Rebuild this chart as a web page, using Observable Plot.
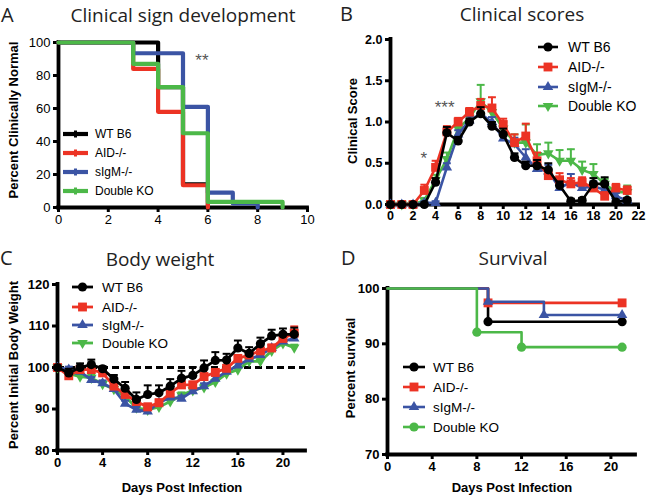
<!DOCTYPE html>
<html><head><meta charset="utf-8">
<script src="https://cdn.jsdelivr.net/npm/d3@7"></script>
<script src="https://cdn.jsdelivr.net/npm/@observablehq/plot@0.6"></script>
<style>
body{margin:0;background:#fff;}
#fig{position:relative;width:650px;height:498px;overflow:hidden;background:#fff;}
#fig > svg{position:absolute;}
</style></head><body><div id="fig"></div>
<script>
// ---------- data ----------
const groups = ["WT B6", "AID-/-", "sIgM-/-", "Double KO"];
const colors = ["#000000", "#ec3324", "#3b54a4", "#4cb848"];

// Panel A: clinical sign development (percent clinically normal)
const aTimes = [[0, 4, 5, 6], [0, 3, 4, 5, 6], [0, 3, 5, 6, 7, 8], [0, 3, 4, 5, 6, 9]];
const aPct = [[100, 73, 14, 0], [100, 84, 58, 13.5, 0], [100, 93.5, 61, 9, 2.5, 0], [100, 87, 73, 45, 3.4, 0]];
const aXTicks = [0, 2, 4, 6, 8, 10];
const aYTicks = [0, 20, 40, 60, 80, 100];
const aStarX = [5.76], aStarY = [91], aStarText = ["**"];

// Panel B: clinical scores
const bDays = d3.range(0, 22);
const bMean = [
  [0, 0, 0, 0, 0.27, 0.87, 0.77, 1.0, 1.1, 0.95, 0.85, 0.57, 0.47, 0.47, 0.42, 0.23, 0.04, 0.05, 0.25, 0.25, 0.03, 0.05],
  [0, 0, 0, 0.17, 0.45, 0.88, 1.0, 1.12, 1.2, 1.17, 0.97, 0.75, 0.83, 0.53, 0.35, 0.3, 0.25, 0.27, 0.2, 0.1, 0.2, 0.17],
  [0, 0, 0, 0.02, 0.02, 0.45, 0.85, 1.02, 1.1, 1.0, 0.8, 0.73, 0.57, 0.43, 0.4, 0.2, 0.27, 0.2, 0.22, 0.18, 0.1, 0.05],
  [0, 0, 0, 0.05, 0.3, 0.55, 0.92, 1.05, 1.25, 1.12, 0.92, 0.75, 0.75, 0.6, 0.62, 0.53, 0.53, 0.42, 0.37, 0.25, 0.15, 0.15]
];
const bErr = [
  [0, 0, 0, 0, 0.05, 0.07, 0.05, 0.04, 0.08, 0.05, 0.07, 0.05, 0.05, 0.07, 0.08, 0.05, 0.03, 0.03, 0.07, 0.08, 0.02, 0.03],
  [0, 0, 0, 0.07, 0.08, 0.07, 0.05, 0.05, 0.08, 0.13, 0.07, 0.1, 0.15, 0.1, 0.07, 0.08, 0.07, 0.06, 0.05, 0.05, 0.05, 0.05],
  [0, 0, 0, 0.02, 0.02, 0.05, 0.05, 0.05, 0.06, 0.06, 0.06, 0.08, 0.1, 0.06, 0.08, 0.05, 0.1, 0.08, 0.06, 0.05, 0.04, 0.03],
  [0, 0, 0, 0.03, 0.06, 0.08, 0.06, 0.06, 0.2, 0.08, 0.08, 0.1, 0.22, 0.13, 0.13, 0.13, 0.14, 0.1, 0.12, 0.06, 0.05, 0.08]
];
const bXTicks = d3.range(0, 23, 2);
const bYTicks = [0, 0.5, 1.0, 1.5, 2.0];
const bStarX = [2.95, 4.8], bStarY = [0.61, 1.22], bStarText = ["*", "***"];

// Panel C: body weight
const cDays = d3.range(0, 22);
const cMean = [
  [100, 98.7, 100, 100.7, 99.7, 97.2, 95, 92.3, 93.5, 93.9, 95.5, 97.4, 98.1, 99.9, 101.7, 101.8, 104.7, 103.4, 105.7, 107.6, 108, 108],
  [100, 98, 99.5, 99.5, 98.7, 95.5, 93.5, 91.8, 90.5, 91.5, 93.8, 95.8, 95.8, 97.8, 98.8, 99.8, 102.2, 103, 104, 104.7, 107, 108.3],
  [100, 99.5, 99, 97, 96.2, 94.8, 91.3, 89.8, 89.4, 91.5, 92.8, 92.5, 94.3, 95.5, 97.3, 99, 100.5, 102, 103, 104.7, 106.3, 107],
  [100, 98.5, 97.8, 97.5, 96, 94.8, 93, 90.3, 89.8, 90.5, 91.8, 93.3, 94.5, 95.2, 96.5, 98.5, 99.5, 101.5, 101.5, 104, 105.8, 104.8]
];
const cErr = [
  [0, 1, 1, 1.2, 0.6, 1, 1.5, 1.7, 2.2, 1.8, 1.7, 1.8, 2, 1.8, 2, 1.5, 1.8, 1.5, 1.5, 1.5, 1.4, 1.6],
  [0, 0.8, 0.8, 0.8, 0.8, 0.8, 0.8, 0.8, 0.8, 0.8, 0.8, 0.8, 0.8, 0.8, 0.8, 0.8, 0.8, 0.8, 0.8, 0.8, 1, 1.6],
  [0, 0.7, 0.7, 0.7, 0.7, 0.7, 0.7, 0.7, 0.7, 0.7, 0.7, 0.7, 0.7, 0.7, 0.7, 0.7, 0.7, 0.7, 0.7, 0.7, 0.7, 0.7],
  [0, 0.7, 0.7, 0.7, 0.7, 0.7, 0.7, 0.7, 0.7, 0.7, 0.7, 0.7, 0.7, 0.7, 0.7, 0.7, 0.7, 0.7, 0.7, 0.7, 0.7, 0.7]
];
const cXTicks = [0, 4, 8, 12, 16, 20];
const cYTicks = [80, 90, 100, 110, 120];
const cBaseline = [100];

// Panel D: survival
const dTimes = [[0, 9, 21], [0, 9, 21], [0, 9, 14, 21], [0, 8, 12, 21]];
const dSurv = [[100, 94, 94], [100, 97.4, 97.4], [100, 97.6, 95.2, 95.2], [100, 92.1, 89.4, 89.4]];
const dXTicks = [0, 4, 8, 12, 16, 20];
const dYTicks = [70, 80, 90, 100];

// ---------- styling helpers ----------
const SANS = "'Liberation Sans', Arial, Helvetica, sans-serif";
const TITLE = "'Open Sans', sans-serif";
const triDown = {
  draw(ctx, size) {
    const y = -Math.sqrt(size / (Math.sqrt(3) * 3));
    ctx.moveTo(0, -y * 2);
    ctx.lineTo(-Math.sqrt(3) * y, y);
    ctx.lineTo(Math.sqrt(3) * y, y);
    ctx.closePath();
  }
};
// panels B and C use the inverted triangle for Double KO; panel D uses a circle
const symbolsBC = ["circle", "square", "triangle", triDown];
const symbolsD = ["circle", "square", "triangle", "circle"];
const symR = [4.6, 5, 3.9, 3.9];
const symRD = [4.6, 5, 3.9, 4.6];
const d3SymBC = [d3.symbolCircle, d3.symbolSquare, d3.symbolTriangle, triDown];
const d3SymD = [d3.symbolCircle, d3.symbolSquare, d3.symbolTriangle, d3.symbolCircle];

const fig = document.getElementById("fig");

function panel(o) {
  const svg = Plot.plot({
    width: o.width, height: o.height,
    marginLeft: o.ml, marginRight: o.mr, marginTop: o.mt, marginBottom: o.mb,
    x: {domain: o.xDomain},
    y: {domain: o.yDomain},
    style: {fontFamily: SANS, fontSize: o.fontSize + "px", fontWeight: o.bold ? "bold" : "normal",
            color: "#000", background: "transparent", overflow: "visible"},
    marks: [
      Plot.ruleX([o.xDomain[0]], {strokeWidth: 3.8, strokeLinecap: "square"}),
      Plot.ruleY([o.yDomain[0]], {strokeWidth: 3.8, strokeLinecap: "square"}),
      Plot.axisX({ticks: o.xTicks, tickSize: 5, strokeWidth: 3, tickPadding: 2, label: null}),
      Plot.axisY({ticks: o.yTicks, tickSize: 5, strokeWidth: 3, tickPadding: 3, label: null, tickFormat: o.yFormat}),
      ...o.marks
    ]
  });
  svg.style.left = o.left + "px";
  svg.style.top = o.top + "px";
  fig.appendChild(svg);
}

function errSeries(days, vals, errs, i, capHalf, lw) {
  const rows = days.map((d, k) => ({x: d, y: vals[k], top: vals[k] + errs[k], e: errs[k]}));
  const withErr = rows.filter(r => r.e > 0);
  return [
    Plot.ruleX(withErr, {x: "x", y1: "y", y2: "top", stroke: colors[i], strokeWidth: 2}),
    Plot.link(withErr, {x1: r => r.x - capHalf, x2: r => r.x + capHalf, y1: "top", y2: "top", stroke: colors[i], strokeWidth: 2}),
    Plot.line(rows, {x: "x", y: "y", stroke: colors[i], strokeWidth: lw}),
    Plot.dot(rows, {x: "x", y: "y", fill: colors[i], symbol: symbolsBC[i], r: symR[i]})
  ];
}

const drawOrder = [3, 2, 1, 0];

// ---------- Panel A ----------
panel({
  left: 0, top: 0, width: 325, height: 250, ml: 58, mr: 18, mt: 42, mb: 43,
  xDomain: [0, 10], yDomain: [0, 100], xTicks: aXTicks, yTicks: aYTicks, fontSize: 13, bold: false,
  marks: [
    ...[0, 1, 2, 3].map(i => Plot.line(aTimes[i].map((t, k) => ({t, p: aPct[i][k]})),
      {x: "t", y: "p", curve: "step-after", stroke: colors[i], strokeWidth: 4.2})),
    Plot.text(aStarText, {x: (d, k) => aStarX[k], y: (d, k) => aStarY[k], text: d => d,
      fontSize: 17, fill: "#555", fontWeight: "normal", dy: 3})
  ]
});

// ---------- Panel B ----------
panel({
  left: 325, top: 0, width: 325, height: 250, ml: 65, mr: 12, mt: 39, mb: 46,
  xDomain: [0, 22], yDomain: [0, 2], xTicks: bXTicks, yTicks: bYTicks, fontSize: 12.5, bold: true,
  yFormat: d3.format(".1f"),
  marks: [
    ...drawOrder.flatMap(i => errSeries(bDays, bMean[i], bErr[i], i, 0.35, 2.6)),
    Plot.text(bStarText, {x: (d, k) => bStarX[k], y: (d, k) => bStarY[k], text: d => d,
      fontSize: 17, fill: "#555", fontWeight: "normal", dy: 4})
  ]
});

// ---------- Panel C ----------
panel({
  left: 0, top: 250, width: 325, height: 248, ml: 57, mr: 20, mt: 34, mb: 48,
  xDomain: [0, 22], yDomain: [80, 120], xTicks: cXTicks, yTicks: cYTicks, fontSize: 13, bold: true,
  marks: [
    Plot.ruleY(cBaseline, {strokeWidth: 3, strokeDasharray: "7,4"}),
    ...drawOrder.flatMap(i => errSeries(cDays, cMean[i], cErr[i], i, 0.35, 2.8))
  ]
});

// ---------- Panel D ----------
panel({
  left: 325, top: 250, width: 325, height: 248, ml: 62, mr: 15, mt: 38, mb: 44,
  xDomain: [0, 22.2], yDomain: [70, 100], xTicks: dXTicks, yTicks: dYTicks, fontSize: 13, bold: true,
  marks: [0, 1, 2, 3].flatMap(i => {
    const rows = dTimes[i].map((t, k) => ({t, s: dSurv[i][k], k}));
    return [
      Plot.line(rows, {x: "t", y: "s", curve: "step-after", stroke: colors[i], strokeWidth: 2.6}),
      Plot.dot(rows.filter(r => r.k > 0), {x: "t", y: "s", fill: colors[i], symbol: symbolsD[i], r: symRD[i]})
    ];
  })
});

// ---------- overlay: titles, letters, axis labels, legends ----------
const ov = d3.select(fig).append("svg")
  .attr("width", 650).attr("height", 498)
  .style("left", "0px").style("top", "0px").style("pointer-events", "none");

const titles = [["Clinical sign development", 183, 22], ["Clinical scores", 522, 21], ["Body weight", 160, 266], ["Survival", 513, 265]];
titles.forEach(([t, x, y]) => ov.append("text").attr("x", x).attr("y", y).attr("text-anchor", "middle")
  .style("font-family", TITLE).style("font-size", "19px").attr("fill", "#222").text(t));

const letters = [["A", 1, 22], ["B", 340, 21], ["C", 0, 265], ["D", 341, 265]];
letters.forEach(([t, x, y]) => ov.append("text").attr("x", x).attr("y", y)
  .style("font-family", TITLE).style("font-size", "20px").attr("fill", "#222").text(t));

const yLabels = [["Percent Clinically Normal", 17.5, 120], ["Clinical Score", 357, 121], ["Percent Initial Body Weight", 17.5, 365], ["Percent survival", 355, 368]];
yLabels.forEach(([t, x, y]) => ov.append("text").attr("transform", `translate(${x},${y}) rotate(-90)`)
  .attr("text-anchor", "middle").style("font-family", SANS).style("font-size", "13px").style("font-weight", "bold").text(t));

const xLabels = [["Days Post Infection", 182, 492], ["Days Post Infection", 512, 492]];
xLabels.forEach(([t, x, y]) => ov.append("text").attr("x", x).attr("y", y).attr("text-anchor", "middle")
  .style("font-family", SANS).style("font-size", "13px").style("font-weight", "bold").text(t));

function legend(x1, x2, tx, ys, fs, syms, radii, lw) {
  groups.forEach((g, i) => {
    const y = ys[i];
    ov.append("line").attr("x1", x1).attr("x2", x2).attr("y1", y).attr("y2", y)
      .attr("stroke", colors[i]).attr("stroke-width", lw);
    if (syms) {
      ov.append("path").attr("transform", `translate(${(x1 + x2) / 2},${y})`)
        .attr("d", d3.symbol().type(syms[i]).size(Math.PI * radii[i] * radii[i])())
        .attr("fill", colors[i]);
    } else {
      ov.append("rect").attr("x", (x1 + x2) / 2 - 1.5).attr("y", y - 3.5).attr("width", 3).attr("height", 7).attr("fill", colors[i]);
    }
    ov.append("text").attr("x", tx).attr("y", y).attr("dy", "0.36em")
      .style("font-family", SANS).style("font-size", fs + "px").text(g);
  });
}
legend(63, 88, 95, [134, 153, 172, 191], 12, null, null, 4.2);
legend(538, 558, 568, [47, 67, 87, 106], 14, d3SymBC, symR, 2.6);
legend(72, 93, 102, [287, 307, 325, 343], 13.5, d3SymBC, symR, 2.8);
legend(403, 425, 433, [367, 387, 407, 427], 13.5, d3SymD, symRD, 2.6);
</script></body></html>
